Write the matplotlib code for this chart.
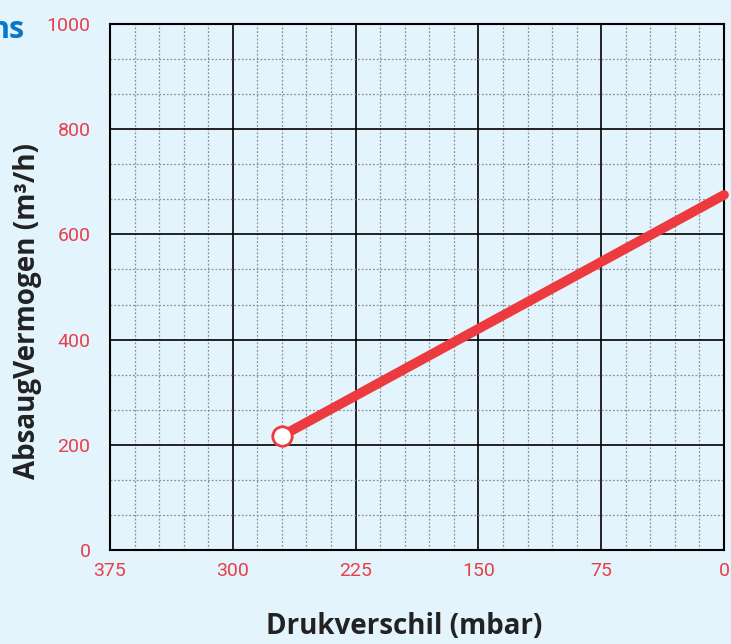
import numpy as np
import matplotlib
matplotlib.use('Agg')
import matplotlib.pyplot as plt
from matplotlib.ticker import MultipleLocator

# ─── Data ───
pressure = [270, 0]          # Drukverschil (mbar)
flow = [217, 675]            # AbsaugVermogen (m³/h)
x_ticks = [375, 300, 225, 150, 75, 0]
y_ticks = [0, 200, 400, 600, 800, 1000]

BG = "#e4f4fc"
RED = "#ec3a3e"
TICK_RED = "#e8404a"

fig = plt.figure(figsize=(7.31, 6.44), dpi=100, facecolor=BG)
ax = fig.add_axes([110/731, 94/644, 614/731, 526/644], facecolor=BG)

ax.set_xlim(375, 0)
ax.set_ylim(0, 1000)
ax.set_xticks(x_ticks)
ax.set_yticks(y_ticks)
ax.xaxis.set_minor_locator(MultipleLocator(15))
ax.yaxis.set_minor_locator(MultipleLocator(200/3))

ax.grid(which="major", color="black", linewidth=1.2)
ax.grid(which="minor", color="#8a9198", linewidth=0.9, linestyle=(0, (1.5, 1.5)))
ax.set_axisbelow(True)
ax.tick_params(which="both", length=0)
ax.tick_params(axis="x", pad=9, labelsize=14, labelcolor=TICK_RED)
ax.tick_params(axis="y", pad=14, labelsize=14, labelcolor=TICK_RED)
for lab in ax.get_xticklabels() + ax.get_yticklabels():
    lab.set_family("Roboto")

for s in ax.spines.values():
    s.set_linewidth(1.5)
    s.set_color("black")

ax.plot(pressure, flow, color=RED, linewidth=7, solid_capstyle="round",
        clip_on=False, zorder=5)
ax.plot(pressure[0], flow[0], "o", markersize=14, markerfacecolor="white",
        markeredgecolor=RED, markeredgewidth=2, zorder=6, clip_on=False)

ax.set_xlabel("Drukverschil (mbar)", fontsize=20, fontweight="bold",
              family="Open Sans", color="#222222", va="center")
ax.xaxis.set_label_coords(0.479, -0.146)
ax.set_ylabel("AbsaugVermogen (m³/h)", fontsize=20, fontweight="bold",
              family="Open Sans", color="#222222", va="center")
ax.yaxis.set_label_coords(-0.134, 0.454)

fig.text(25/731, 1 - 30/644, "ns", fontsize=22, fontweight="bold", family="Open Sans",
         color="#0a78c8", ha="right", va="center")

fig.savefig("out.png", dpi=100, facecolor=BG)
